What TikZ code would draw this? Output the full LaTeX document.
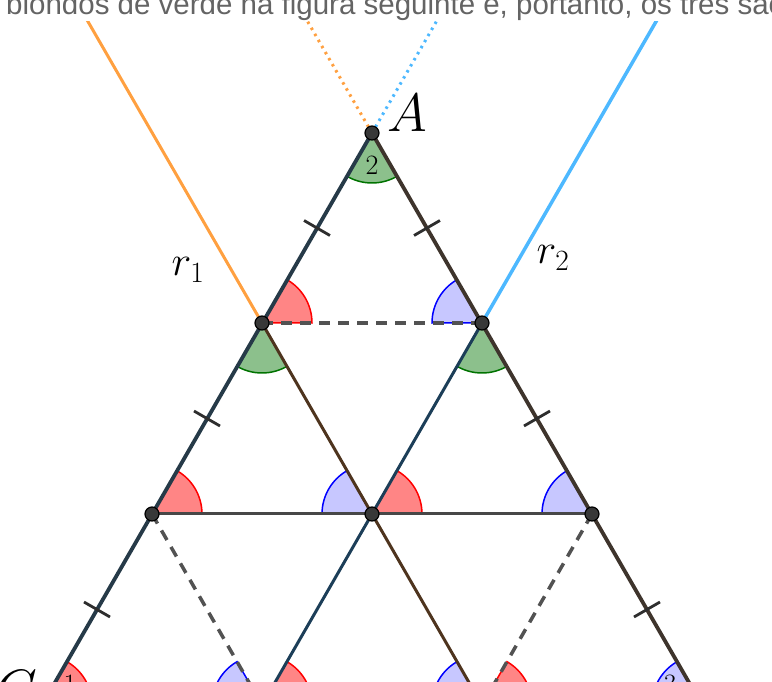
\RequirePackage{fix-cm}
\documentclass[tikz,border=0pt]{standalone}
\usepackage{fontspec}
\newfontfamily\capfont{Liberation Sans}
\usetikzlibrary{arrows.meta,positioning,calc}

\definecolor{sideL}{RGB}{38,58,72}
\definecolor{sideR}{RGB}{62,52,44}
\definecolor{inBrown}{RGB}{78,52,30}
\definecolor{inBlue}{RGB}{28,62,88}
\definecolor{rOrange}{RGB}{255,160,64}
\definecolor{rBlue}{RGB}{77,184,255}
\definecolor{angGreen}{RGB}{0,115,0}
\definecolor{capGray}{RGB}{100,100,100}

\begin{document}
\begin{tikzpicture}[
  x=1pt, y=1pt,
  vtx/.style={circle, fill=black!78, draw=black, line width=1.2pt, inner sep=0pt, minimum size=14pt},
  sideline/.style={line width=3.8pt},
  solidline/.style={line width=3pt, black!72},
  dashline/.style={line width=3.5pt, black!68, dash pattern=on 11pt off 8pt},
  rayline/.style={line width=3pt},
  dotline/.style={line width=3pt, dash pattern=on 2.5pt off 4.5pt},
  tickmark/.style={line width=2.8pt, black!82},
  angred/.style={fill=red, fill opacity=0.48, draw=red, line width=1.5pt},
  angblue/.style={fill=blue, fill opacity=0.22, draw=blue, line width=1.5pt},
  anggreen/.style={fill=angGreen, fill opacity=0.45, draw=angGreen, line width=1.5pt},
  ptlabel/.style={inner sep=0pt, font=\fontsize{54}{60}\selectfont},
  raylabel/.style={inner sep=0pt, font=\fontsize{42}{48}\selectfont},
  anglabel/.style={inner sep=0pt, font=\fontsize{28}{32}\selectfont},
  captext/.style={inner sep=0pt, text=capGray, font=\capfont\fontsize{29.5}{34}\selectfont}
]
\useasboundingbox (0,0) rectangle (772,681);
\clip (0,0) rectangle (772,681);
\coordinate (A) at (372,548);
\coordinate (B1) at (262,358);
\coordinate (B2) at (482,358);
\coordinate (C1) at (152,167);
\coordinate (C2) at (372,167);
\coordinate (C3) at (592,167);
\coordinate (D1) at (42,-24);
\coordinate (D2) at (262,-24);
\coordinate (D3) at (482,-24);
\coordinate (D4) at (702,-24);
\coordinate (r1end) at ($(B1)+(120:400)$);
\coordinate (r2end) at ($(B2)+(60:400)$);
\coordinate (h1end) at ($(A)+(120:200)$);
\coordinate (h2end) at ($(A)+(60:200)$);

\node[captext, anchor=base west] (caption) at (6,666) {blondos de verde na figura seguinte é, portanto, os três são};

\foreach \v in {B1,C1,C2,D1,D2,D3}
  \filldraw[angred] (\v) -- ++(0:50pt) arc[start angle=0, end angle=60, radius=50pt] -- cycle;
\foreach \v in {B2,C2,C3,D2,D3,D4}
  \filldraw[angblue] (\v) -- ++(120:50pt) arc[start angle=120, end angle=180, radius=50pt] -- cycle;
\foreach \v in {A,B1,B2}
  \filldraw[anggreen] (\v) -- ++(240:50pt) arc[start angle=240, end angle=300, radius=50pt] -- cycle;

\begin{scope}
\clip (0,0) rectangle (772,659);
\draw[rayline, rOrange] (B1) -- (r1end);
\draw[rayline, rBlue, line width=3.5pt] (B2) -- (r2end);
\draw[dotline, rOrange] (A) -- (h1end);
\draw[dotline, rBlue] (A) -- (h2end);
\end{scope}

\draw[sideline, sideL] (A) -- (D1);
\draw[sideline, sideR] (A) -- (D4);
\draw[sideline, inBrown, line width=3pt] (B1) -- (D3);
\draw[sideline, inBlue, line width=3pt] (B2) -- (D2);
\draw[solidline] (C1) -- (C3);
\draw[dashline] (B1) -- (B2);
\draw[dashline] (C1) -- (D2);
\draw[dashline] (C3) -- (D3);

\foreach \p/\q in {A/B1,B1/C1,C1/D1,A/B2,B2/C3,C3/D4}
  \draw[tickmark] ($(\p)!0.5!(\q)!15pt!90:(\q)$) -- ($(\p)!0.5!(\q)!15pt!-90:(\q)$);

\foreach \v in {A,B1,B2,C1,C2,C3}
  \node[vtx] (dot\v) at (\v) {};

\node[ptlabel] (lblA) at (407,568) {$A$};
\node[ptlabel] (lblC) at (16,-8) {$C$};
\node[raylabel] (lblr1) at (188,411) {$r_1$};
\node[raylabel] (lblr2) at (553,423) {$r_2$};
\node[anglabel] (num2) at (372,516) {$2$};
\node[anglabel] (num1) at (70,-3) {$1$};
\node[anglabel] (num3) at (670,-3) {$3$};
\end{tikzpicture}
\end{document}
